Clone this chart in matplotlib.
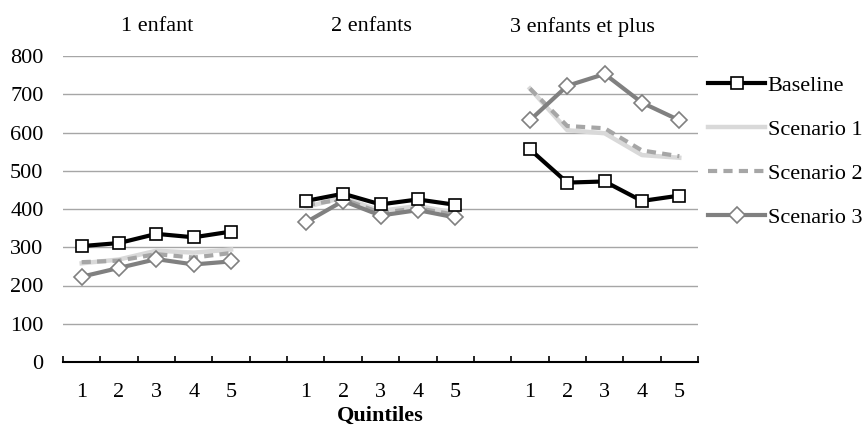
import numpy as np
import matplotlib.pyplot as plt

plt.rcParams['font.family'] = ['Liberation Serif', 'DejaVu Serif']

# Data (nan = gap between groups)
groups = ['1 enfant', '2 enfants', '3 enfants et plus']
quintiles = ['1', '2', '3', '4', '5']
nan = np.nan
baseline = [303, 311, 335, 326, 341, nan, 421, 440, 412, 425, 411, nan, 556, 469, 472, 421, 435]
scenario1 = [258, 268, 291, 286, 294, nan, 405, 430, 395, 408, 390, nan, 715, 606, 598, 541, 534]
scenario2 = [261, 265, 282, 273, 285, nan, 410, 426, 390, 402, 385, nan, 715, 617, 611, 553, 538]
scenario3 = [223, 246, 269, 255, 263, nan, 365, 421, 383, 397, 378, nan, 632, 722, 753, 678, 632]

labels = quintiles + [''] + quintiles + [''] + quintiles
x = np.arange(len(labels))

fig = plt.figure(figsize=(8.68, 4.33), dpi=100)
ax = fig.add_axes([63 / 868, 71 / 433, 635 / 868, 306 / 433])

ax.plot(x, scenario1, color='#d9d9d9', lw=3.2, label='Scenario 1', zorder=2)
ax.plot(x, scenario2, color='#a6a6a6', lw=3, ls=(0, (2.2, 1.5)), label='Scenario 2', zorder=3)
ax.plot(x, scenario3, color='#808080', lw=3, marker='D', ms=8, mfc='white',
        mec='#808080', mew=1.2, label='Scenario 3', zorder=4)
ax.plot(x, baseline, color='black', lw=3, marker='s', ms=9, mfc='white',
        mec='black', mew=1.2, label='Baseline', zorder=5)

ax.set_xlim(-0.5, len(labels) - 0.5)
ax.set_ylim(0, 800)
ax.set_yticks(range(0, 801, 100))
ax.grid(axis='y', color='#a6a6a6', lw=1)
ax.set_axisbelow(True)
for s in ['left', 'right', 'top']:
    ax.spines[s].set_visible(False)
ax.spines['bottom'].set_linewidth(1.5)
ax.tick_params(axis='y', length=0, labelsize=16, pad=14)

ax.set_xticks(x)
ax.set_xticklabels(labels)
ax.set_xticks(np.arange(-0.5, len(labels), 1), minor=True)
ax.tick_params(axis='x', which='major', length=0, labelsize=16, pad=15)
ax.tick_params(axis='x', which='minor', direction='in', length=4, width=1.2)
ax.set_xlabel('Quintiles', fontsize=16, fontweight='bold', labelpad=3)

# group titles
for pos, name in zip([2.03, 7.75, 13.4], groups):
    ax.text(pos, 1 + 29 / 306, name, transform=ax.get_xaxis_transform(),
            ha='center', va='center', fontsize=16)

h, l = ax.get_legend_handles_labels()
order = [3, 0, 1, 2]
fig.legend([h[i] for i in order], [l[i] for i in order], loc='upper left',
           bbox_to_anchor=(701 / 868, 1 - 69 / 433), frameon=False, fontsize=16,
           handlelength=2.6, handletextpad=0.1, labelspacing=1.05,
           borderaxespad=0, borderpad=0.3)

fig.savefig('out.png', dpi=100)
